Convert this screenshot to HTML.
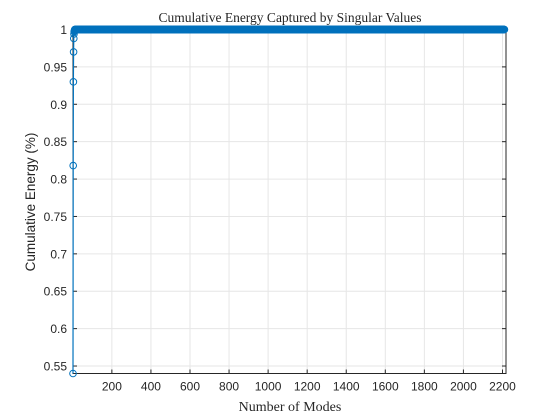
<!DOCTYPE html>
<html><head><meta charset="utf-8"><style>
body{margin:0;background:#fff;width:560px;height:420px;overflow:hidden}
svg{display:block}
.t{font-family:"Liberation Sans",sans-serif;font-size:12px;fill:#262626}
.s{font-family:"Liberation Serif",serif;fill:#262626}
</style></head><body>
<svg id="c" width="560" height="420"></svg>
<script>
const headValues=[0.54,0.818,0.930,0.970,0.988,0.994,0.997,0.998,0.999];
const tailValue=1;
const nModes=2210;
const xTicks=[200,400,600,800,1000,1200,1400,1600,1800,2000,2200];
const yTicks=[0.55,0.6,0.65,0.7,0.75,0.8,0.85,0.9,0.95,1];
const yLabels=["0.55","0.6","0.65","0.7","0.75","0.8","0.85","0.9","0.95","1"];
const values=headValues.concat(new Array(nModes-headValues.length).fill(tailValue));

const L=73,R=506,T=29.5,B=373.5,xmin=1,xmax=2218,ymin=0.54,ymax=1;
const X=v=>L+(v-xmin)/(xmax-xmin)*(R-L);
const Y=v=>B-(v-ymin)/(ymax-ymin)*(B-T);
const svg=document.getElementById('c');const NS='http://www.w3.org/2000/svg';
function mk(tag,attrs,parent){const e=document.createElementNS(NS,tag);for(const k in attrs)e.setAttribute(k,attrs[k]);(parent||svg).appendChild(e);return e;}
const bg=mk('rect',{x:L,y:T,width:R-L,height:B-T,fill:'#fff'});


xTicks.forEach((v,i)=>{const x=X(v);
 const g=mk('line',{x1:x,x2:x,y1:T,y2:B,stroke:'#e6e6e6','stroke-width':1});
 
 
 mk('line',{x1:x,x2:x,y1:B,y2:B-4,stroke:'#262626'});mk('line',{x1:x,x2:x,y1:T,y2:T+4,stroke:'#262626'});
 const t=mk('text',{x:x,y:B+17,'text-anchor':'middle',class:'t'});t.textContent=String(v);
 
 
});
yTicks.forEach((v,i)=>{const y=Y(v);
 const g=mk('line',{x1:L,x2:R,y1:y,y2:y,stroke:'#e6e6e6','stroke-width':1});
 
 
 mk('line',{x1:L,x2:L+4,y1:y,y2:y,stroke:'#262626'});mk('line',{x1:R,x2:R-4,y1:y,y2:y,stroke:'#262626'});
 const t=mk('text',{x:L-6,y:y+4.5,'text-anchor':'end',class:'t'});t.textContent=yLabels[i];
 
 
});
const box=mk('rect',{x:L,y:T,width:R-L,height:B-T,fill:'none',stroke:'#262626','stroke-width':1});


const line=mk('polyline',{points:values.map((v,i)=>X(i+1)+','+Y(v)).join(' '),fill:'none',stroke:'#0072bd','stroke-width':1.2});


const mg=mk('g',{fill:'none',stroke:'#0072bd','stroke-width':1});


values.forEach((v,i)=>{const c=mk('circle',{cx:X(i+1),cy:Y(v),r:3.3},mg);
 
 
});
const title=mk('text',{x:290,y:22,'text-anchor':'middle',class:'s','font-size':'13.5'});title.textContent='Cumulative Energy Captured by Singular Values';


const xl=mk('text',{x:290,y:411,'text-anchor':'middle',class:'s','font-size':'14'});xl.textContent='Number of Modes';


const yl=mk('text',{x:0,y:0,'text-anchor':'middle',class:'t',transform:'translate(35,202) rotate(-90)'});yl.textContent='Cumulative Energy (%)';yl.style.fontSize='13.5px';


</script>
</body></html>
